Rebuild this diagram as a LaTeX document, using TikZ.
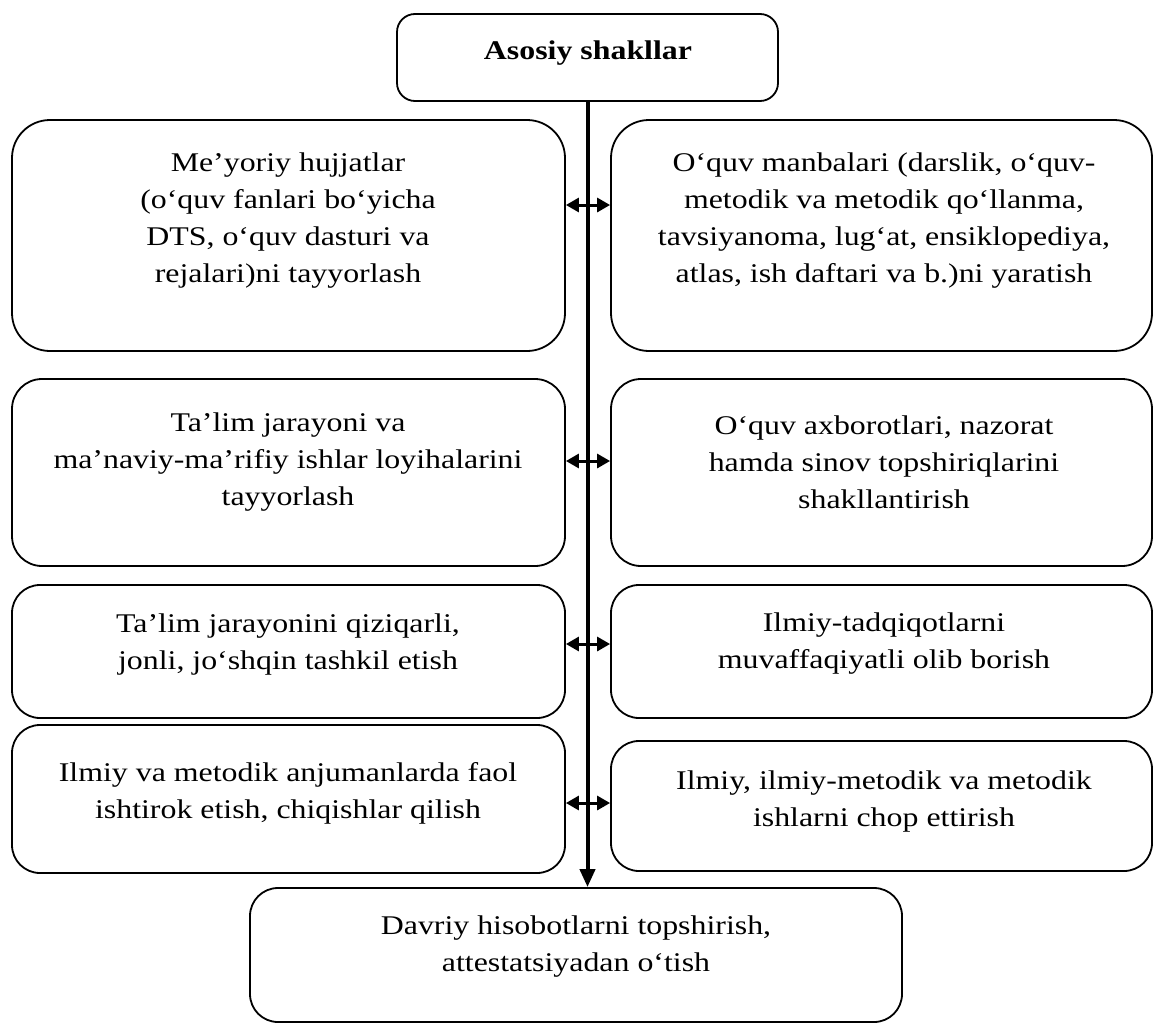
\documentclass[tikz,border=0pt]{standalone}
\usepackage{fontspec}
\setmainfont{Liberation Serif}[FakeStretch=1.18]
\usetikzlibrary{arrows.meta}
\begin{document}
\begin{tikzpicture}[x=1pt,y=-1pt,
  box/.style={draw, line width=1.8pt, rounded corners=#1, inner sep=0pt},
  box/.default=28pt,
  txt/.style={align=center, font=\fontsize{27}{37}\selectfont, inner sep=0pt},
  vline/.style={line width=4pt, -{Triangle[length=18pt,width=15pt]}},
  dbl/.style={line width=3pt, {Triangle[length=13pt,width=14pt]}-{Triangle[length=13pt,width=14pt]}}]
\useasboundingbox (0,0) rectangle (1155,1025);
% boxes
\node[box=18pt, minimum width=381pt, minimum height=87pt] (top) at (587.5,57.5) {};
\node[box=38pt, minimum width=553pt, minimum height=231pt] (l1) at (288.5,235.5) {};
\node[box=38pt, minimum width=541pt, minimum height=231pt] (r1) at (881.5,235.5) {};
\node[box=30pt, minimum width=553pt, minimum height=187pt] (l2) at (288.5,472.5) {};
\node[box=30pt, minimum width=541pt, minimum height=187pt] (r2) at (881.5,472.5) {};
\node[box=28pt, minimum width=553pt, minimum height=133pt] (l3) at (288.5,651.5) {};
\node[box=28pt, minimum width=541pt, minimum height=133pt] (r3) at (881.5,651.5) {};
\node[box=28pt, minimum width=553pt, minimum height=148pt] (l4) at (288.5,799) {};
\node[box=28pt, minimum width=541pt, minimum height=130pt] (r4) at (881.5,806) {};
\node[box=28pt, minimum width=652pt, minimum height=134pt] (bot) at (576,955) {};
% texts
\node[txt, font=\fontsize{27}{37}\selectfont\bfseries] (toptxt) at (588,53) {Asosiy shakllar};
\node[txt] (l1txt) at (288,221) {Me’yoriy hujjatlar\\(o‘quv fanlari bo‘yicha\\DTS, o‘quv dasturi va\\rejalari)ni tayyorlash};
\node[txt] (r1txt) at (884,221) {O‘quv manbalari (darslik, o‘quv-\\metodik va metodik qo‘llanma,\\tavsiyanoma, lug‘at, ensiklopediya,\\atlas, ish daftari va b.)ni yaratish};
\node[txt] (l2txt) at (288,462) {Ta’lim jarayoni va\\ma’naviy-ma’rifiy ishlar loyihalarini\\tayyorlash};
\node[txt] (r2txt) at (884,462) {O‘quv axborotlari, nazorat\\hamda sinov topshiriqlarini\\shakllantirish};
\node[txt] (l3txt) at (288,644) {Ta’lim jarayonini qiziqarli,\\jonli, jo‘shqin tashkil etish};
\node[txt] (r3txt) at (884,644) {Ilmiy-tadqiqotlarni\\muvaffaqiyatli olib borish};
\node[txt] (l4txt) at (288,793) {Ilmiy va metodik anjumanlarda faol\\ishtirok etish, chiqishlar qilish};
\node[txt] (r4txt) at (884,801) {Ilmiy, ilmiy-metodik va metodik\\ishlarni chop ettirish};
\node[txt] (bottxt) at (576,947) {Davriy hisobotlarni topshirish,\\attestatsiyadan o‘tish};
% connectors
\coordinate (a1) at (588,205);
\coordinate (a2) at (588,461);
\coordinate (a3) at (588,644);
\coordinate (a4) at (588,803);
\draw[vline] (top.south) -- (top.south |- bot.north);
\draw[dbl] (l1.east |- a1) -- (r1.west |- a1);
\draw[dbl] (l2.east |- a2) -- (r2.west |- a2);
\draw[dbl] (l3.east |- a3) -- (r3.west |- a3);
\draw[dbl] (l4.east |- a4) -- (r4.west |- a4);
\end{tikzpicture}
\end{document}
